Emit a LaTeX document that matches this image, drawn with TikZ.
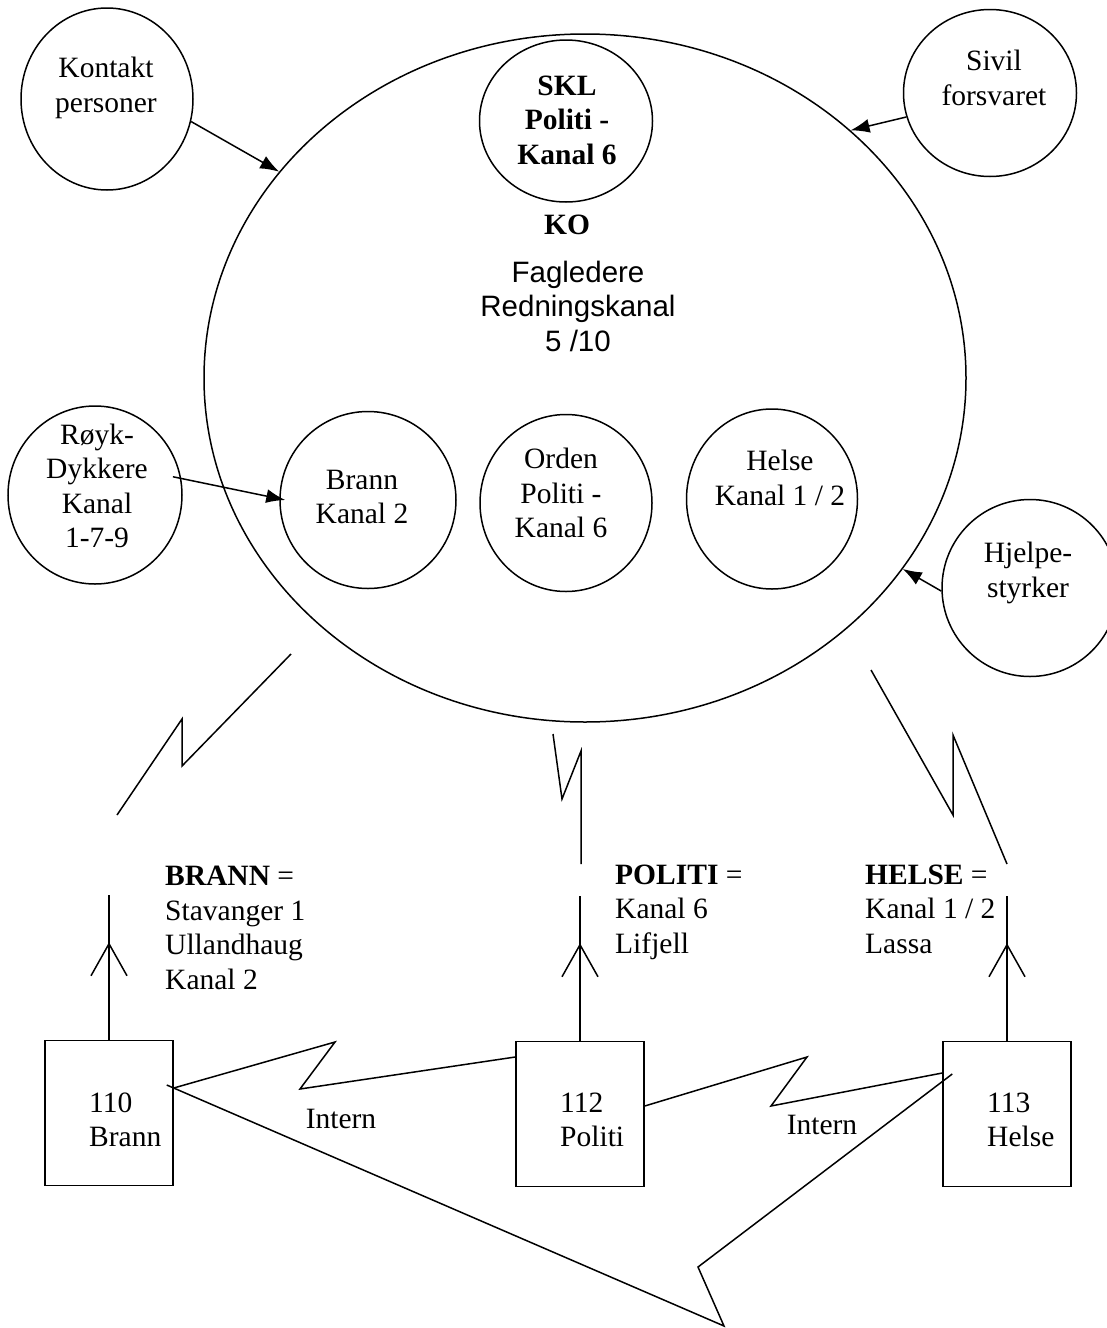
\documentclass[tikz,border=0pt]{standalone}
\usepackage{fontspec}
\setmainfont{Liberation Serif}
\newfontfamily\arialfont{Liberation Sans}
\usetikzlibrary{arrows.meta,shapes}
\tikzstyle{ring}=[draw,ellipse,line width=1.5pt,inner sep=0pt]
\tikzstyle{unit}=[draw,rectangle,line width=1.5pt,minimum width=128pt,minimum height=145pt,inner sep=0pt]
\tikzstyle{txt}=[align=center,inner sep=0pt]
\tikzstyle{edge}=[draw,line width=1.5pt,-]
\tikzstyle{feed}=[draw,line width=1.5pt,-{Latex[length=19pt,width=14pt]}]

\begin{document}
\begin{tikzpicture}[x=1pt,y=-1pt,every node/.style={font=\fontsize{29.5}{34.5}\selectfont}]
    \useasboundingbox (0,0) rectangle (1106,1328);
    % the big KO circle
    \node[ring,minimum width=762pt,minimum height=688pt] (ko) at (585,378) {};
    % then the small circles
    \foreach \pos/\name/\w/\h in {{(107,99)/kontakt/172/182}, {(95,495)/royk/174/178},
        {(990,93)/sivil/173/167}, {(1030,588)/hjelpe/176/177}, {(566,121)/skl/173/162},
        {(368,500)/brann/176/177}, {(566,503)/orden/172/177}, {(772,499)/helse/171/180}}
        \node[ring,minimum width=\w pt,minimum height=\h pt] (\name) at \pos {};
    % texts of the circles
    \node[txt] (kontakttxt) at (106,88) {Kontakt\\personer};
    \node[txt] (roykt) at (97,486) {Røyk-\\Dykkere\\Kanal\\1-7-9};
    \node[txt] (siviltxt) at (994,78) {Sivil\\forsvaret};
    \node[txt] (hjelpetxt) at (1028,573) {Hjelpe-\\styrker};
    \node[txt,font=\fontsize{29.5}{34.5}\selectfont\bfseries] (skltxt) at (567,120) {SKL\\Politi -\\Kanal 6};
    \node[txt,font=\fontsize{29.5}{34.5}\selectfont\bfseries] (kotxt) at (567,225) {KO};
    \node[txt,font=\fontsize{29.5}{34.5}\selectfont\arialfont] (fagtxt) at (578,306) {Fagledere\\Redningskanal\\5 /10};
    \node[txt] (branntxt) at (362,497) {Brann\\Kanal 2};
    \node[txt] (ordentxt) at (561,493) {Orden\\Politi -\\Kanal 6};
    \node[txt] (helsetxt) at (780,478) {Helse\\Kanal 1 / 2};
    % arrows into KO
    \path[feed] (kontakt.-15) -- (ko.146);
    \path[feed] (sivil.196) -- (ko.43);
    \path[feed] (hjelpe.182) -- (ko.-31);
    \path[feed] ([xshift=-8pt]royk.12) -- ([xshift=6pt]brann.180);
    % the three units
    \foreach \pos/\name in {{(109,1113)/brannbox}, {(580,1114)/politibox}, {(1007,1114)/helsebox}}
        \node[unit] (\name) at \pos {};
    \node[txt,align=left,anchor=west] (brannboxtxt) at (89,1120) {110\\Brann};
    \node[txt,align=left,anchor=west] (politiboxtxt) at (560,1120) {112\\Politi};
    \node[txt,align=left,anchor=west] (helseboxtxt) at (987,1120) {113\\Helse};
    % channel labels
    \node[txt,align=left,anchor=west] (brannlbl) at (165,928) {\textbf{BRANN} =\\Stavanger 1\\Ullandhaug\\Kanal 2};
    \node[txt,align=left,anchor=west] (politilbl) at (615,912) {\textbf{POLITI} =\\Kanal 6\\Lifjell};
    \node[txt,align=left,anchor=west] (helselbl) at (865,909) {\textbf{HELSE} =\\Kanal 1 / 2\\Lassa};
    % antennas
    \foreach \name in {brannbox, politibox, helsebox} {
        \coordinate (\name ant) at ([yshift=145pt]\name.north);
        \path[edge] (\name) -- (\name ant);
        \path[edge] ([yshift=64pt]\name.north) ++(-18,0) -- ++(18,-32) -- ++(18,32);
    }
    % radio links up to KO
    \coordinate (brannsky) at (291,654);
    \coordinate (brannrx) at (117,815);
    \coordinate (politisky) at (553,734);
    \coordinate (politirx) at (581,864);
    \coordinate (helsesky) at (871,670);
    \coordinate (helserx) at (1007,864);
    \path[edge] (brannsky) -- (182,766) -- (182,719) -- (brannrx);
    \path[edge] (politisky) -- (562,799) -- (581,751) -- (politirx);
    \path[edge] (helsesky) -- (953,815) -- (953,735) -- (helserx);
    % intern links
    \path[edge] ([yshift=25pt]brannbox.east) -- (335,1042) -- (300,1089) -- ([yshift=57pt]politibox.west);
    \path[edge] ([yshift=8pt]politibox.east) -- (807,1057) -- (771,1106) -- ([yshift=41pt]helsebox.west);
    \path[edge] ([shift={(-7pt,28pt)}]brannbox.east) -- (724,1326) -- (698,1267) -- ([shift={(10pt,40pt)}]helsebox.west);
    \node[txt] (intern1) at (341,1119) {Intern};
    \node[txt] (intern2) at (822,1125) {Intern};
\end{tikzpicture}
\end{document}
